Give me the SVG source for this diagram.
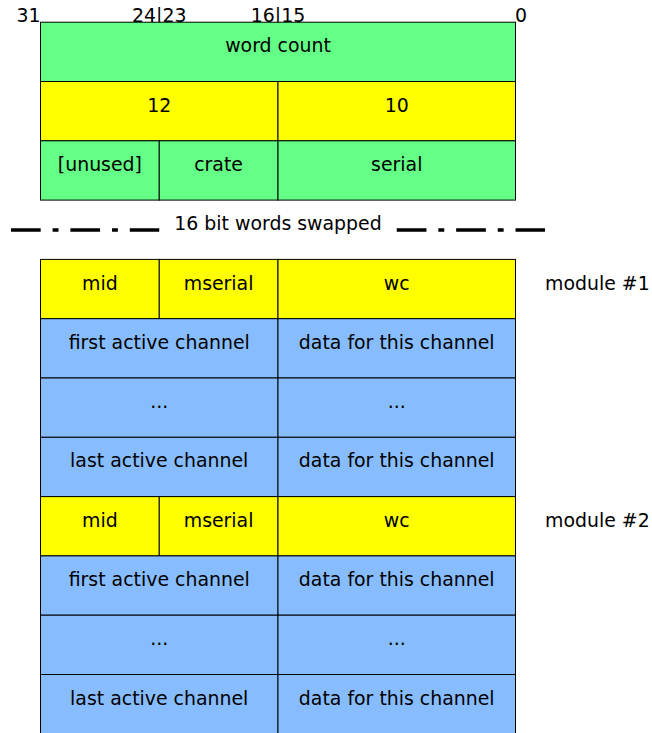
<svg xmlns="http://www.w3.org/2000/svg" width="652" height="733" viewBox="0 0 652 733">
<style>
  text { font-family: "DejaVu Sans", "Liberation Sans", sans-serif; font-size: 18.9px; fill: #000; }
  .c { text-anchor: middle; }
  .cell { stroke: #000; stroke-width: 1; }
  .green { fill: #63ff86; }
  .yellow { fill: #ffff00; }
  .blue { fill: #87bdff; }
  .sep { stroke: #000; stroke-width: 3.4; fill: none; stroke-dasharray: 29.7 11.9 5.9 11.9; }
</style>
<rect width="652" height="733" fill="#fff"/>

<g id="bit-labels">
  <text x="40.5" y="22.3" text-anchor="end">31</text>
  <text x="159.25" y="22.3" class="c">24|23</text>
  <text x="278" y="22.3" class="c">16|15</text>
  <text x="515" y="22.3">0</text>
</g>

<g id="word-count">
  <rect class="cell green" x="40.5" y="22.2" width="475" height="59.3"/>
  <text x="278" y="52.3" class="c">word count</text>
</g>
<g id="hdr-12">
  <rect class="cell yellow" x="40.5" y="81.5" width="237.5" height="59.3"/>
  <text x="159.25" y="111.6" class="c">12</text>
</g>
<g id="hdr-10">
  <rect class="cell yellow" x="278" y="81.5" width="237.5" height="59.3"/>
  <text x="396.75" y="111.6" class="c">10</text>
</g>
<g id="unused">
  <rect class="cell green" x="40.5" y="140.8" width="118.75" height="59.3"/>
  <text x="99.9" y="170.9" class="c">[unused]</text>
</g>
<g id="crate">
  <rect class="cell green" x="159.25" y="140.8" width="118.75" height="59.3"/>
  <text x="218.6" y="170.9" class="c">crate</text>
</g>
<g id="serial">
  <rect class="cell green" x="278" y="140.8" width="237.5" height="59.3"/>
  <text x="396.75" y="170.9" class="c">serial</text>
</g>

<g id="connectors">
  <line class="sep" x1="11" y1="230" x2="159.25" y2="230"/>
  <line class="sep" x1="396.75" y1="230" x2="545" y2="230"/>
</g>
<g id="swap-label">
  <text x="278" y="230.2" class="c">16 bit words swapped</text>
</g>

<!-- module 1 -->
<g id="m1-mid">
  <rect class="cell yellow" x="40.5" y="259.4" width="118.75" height="59.3"/>
  <text x="99.9" y="289.5" class="c">mid</text>
</g>
<g id="m1-mserial">
  <rect class="cell yellow" x="159.25" y="259.4" width="118.75" height="59.3"/>
  <text x="218.6" y="289.5" class="c">mserial</text>
</g>
<g id="m1-wc">
  <rect class="cell yellow" x="278" y="259.4" width="237.5" height="59.3"/>
  <text x="396.75" y="289.5" class="c">wc</text>
</g>
<g id="m1-label">
  <text x="545" y="289.5">module #1</text>
</g>
<g id="m1-first">
  <rect class="cell blue" x="40.5" y="318.7" width="237.5" height="59.3"/>
  <text x="159.25" y="348.8" class="c">first active channel</text>
</g>
<g id="m1-first-data">
  <rect class="cell blue" x="278" y="318.7" width="237.5" height="59.3"/>
  <text x="396.75" y="348.8" class="c">data for this channel</text>
</g>
<g id="m1-dots">
  <rect class="cell blue" x="40.5" y="378" width="237.5" height="59.3"/>
  <text x="159.25" y="408.1" class="c">...</text>
</g>
<g id="m1-dots-data">
  <rect class="cell blue" x="278" y="378" width="237.5" height="59.3"/>
  <text x="396.75" y="408.1" class="c">...</text>
</g>
<g id="m1-last">
  <rect class="cell blue" x="40.5" y="437.3" width="237.5" height="59.3"/>
  <text x="159.25" y="467.4" class="c">last active channel</text>
</g>
<g id="m1-last-data">
  <rect class="cell blue" x="278" y="437.3" width="237.5" height="59.3"/>
  <text x="396.75" y="467.4" class="c">data for this channel</text>
</g>

<!-- module 2 -->
<g id="m2-mid">
  <rect class="cell yellow" x="40.5" y="496.6" width="118.75" height="59.3"/>
  <text x="99.9" y="526.7" class="c">mid</text>
</g>
<g id="m2-mserial">
  <rect class="cell yellow" x="159.25" y="496.6" width="118.75" height="59.3"/>
  <text x="218.6" y="526.7" class="c">mserial</text>
</g>
<g id="m2-wc">
  <rect class="cell yellow" x="278" y="496.6" width="237.5" height="59.3"/>
  <text x="396.75" y="526.7" class="c">wc</text>
</g>
<g id="m2-label">
  <text x="545" y="526.7">module #2</text>
</g>
<g id="m2-first">
  <rect class="cell blue" x="40.5" y="555.9" width="237.5" height="59.3"/>
  <text x="159.25" y="586" class="c">first active channel</text>
</g>
<g id="m2-first-data">
  <rect class="cell blue" x="278" y="555.9" width="237.5" height="59.3"/>
  <text x="396.75" y="586" class="c">data for this channel</text>
</g>
<g id="m2-dots">
  <rect class="cell blue" x="40.5" y="615.2" width="237.5" height="59.3"/>
  <text x="159.25" y="645.3" class="c">...</text>
</g>
<g id="m2-dots-data">
  <rect class="cell blue" x="278" y="615.2" width="237.5" height="59.3"/>
  <text x="396.75" y="645.3" class="c">...</text>
</g>
<g id="m2-last">
  <rect class="cell blue" x="40.5" y="674.5" width="237.5" height="59.3"/>
  <text x="159.25" y="704.6" class="c">last active channel</text>
</g>
<g id="m2-last-data">
  <rect class="cell blue" x="278" y="674.5" width="237.5" height="59.3"/>
  <text x="396.75" y="704.6" class="c">data for this channel</text>
</g>
</svg>
